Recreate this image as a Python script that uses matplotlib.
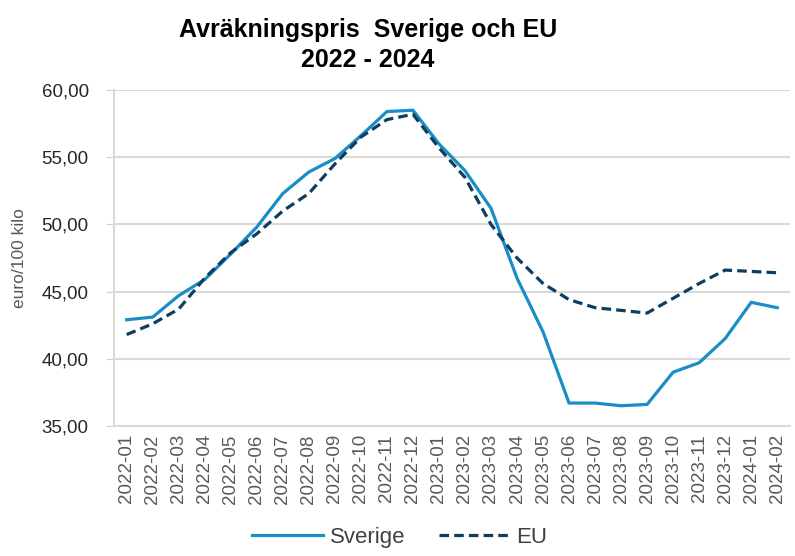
import matplotlib.pyplot as plt
import numpy as np

plt.rcParams['font.family'] = ['Liberation Sans', 'DejaVu Sans']

months = ["2022-01", "2022-02", "2022-03", "2022-04", "2022-05", "2022-06",
          "2022-07", "2022-08", "2022-09", "2022-10", "2022-11", "2022-12",
          "2023-01", "2023-02", "2023-03", "2023-04", "2023-05", "2023-06",
          "2023-07", "2023-08", "2023-09", "2023-10", "2023-11", "2023-12",
          "2024-01", "2024-02"]

sverige = [42.9, 43.1, 44.7, 45.9, 47.8, 49.8, 52.3, 53.9, 54.9, 56.6, 58.4, 58.5,
           56.0, 54.0, 51.2, 46.0, 42.0, 36.7, 36.7, 36.5, 36.6, 39.0, 39.7, 41.5,
           44.2, 43.8]
eu = [41.8, 42.6, 43.7, 46.0, 47.9, 49.3, 51.0, 52.3, 54.5, 56.5, 57.8, 58.2,
      55.7, 53.5, 50.0, 47.5, 45.6, 44.4, 43.8, 43.6, 43.4, 44.5, 45.6, 46.6,
      46.5, 46.4]

fig = plt.figure(figsize=(7.95, 5.56), dpi=100)
ax = fig.add_axes([0.143, 0.234, 0.851, 0.604])

x = np.arange(len(months))
ax.plot(x, sverige, color="#1a8dc6", lw=2.3, label="Sverige")
ax.plot(x, eu, color="#0d3d5f", lw=2.3, ls=(0, (3, 1.6)), label="EU")

ax.set_xlim(-0.5, len(months) - 0.5)
ax.set_ylim(35, 60)
yt = np.arange(35, 60.1, 5)
ax.set_yticks(yt)
ax.set_yticklabels([f"{v:.2f}".replace(".", ",") for v in yt],
                   fontsize=13.5, color="#262626")
ax.set_xticks(x)
ax.set_xticklabels(months, rotation=90, fontsize=13.5, color="#595959")
ax.tick_params(axis="x", length=0, pad=6)
ax.tick_params(axis="y", length=6, color="#d0d0d0", pad=12)

ax.grid(axis="y", color="#d9d9d9", lw=1.5)
ax.set_axisbelow(True)
for s in ["top", "right"]:
    ax.spines[s].set_visible(False)
ax.spines["left"].set_color("#d9d9d9")
ax.spines["left"].set_linewidth(1.5)
ax.spines["bottom"].set_color("#d9d9d9")
ax.spines["bottom"].set_linewidth(1.5)

ax.set_ylabel("euro/100 kilo", fontsize=12.5, color="#595959")
ax.yaxis.set_label_coords(-0.128, 0.5)

fig.text(0.463, 0.968, "Avräkningspris  Sverige och EU\n2022 - 2024", ha="center", va="top",
         fontsize=18, fontweight="bold", linespacing=1.35)

fig.legend(loc="center", bbox_to_anchor=(0.503, 0.034), ncol=2, frameon=False,
           fontsize=16, handlelength=3.2, columnspacing=1.5, handletextpad=0.3,
           labelcolor="#404040")

plt.savefig("out.png", dpi=100)
